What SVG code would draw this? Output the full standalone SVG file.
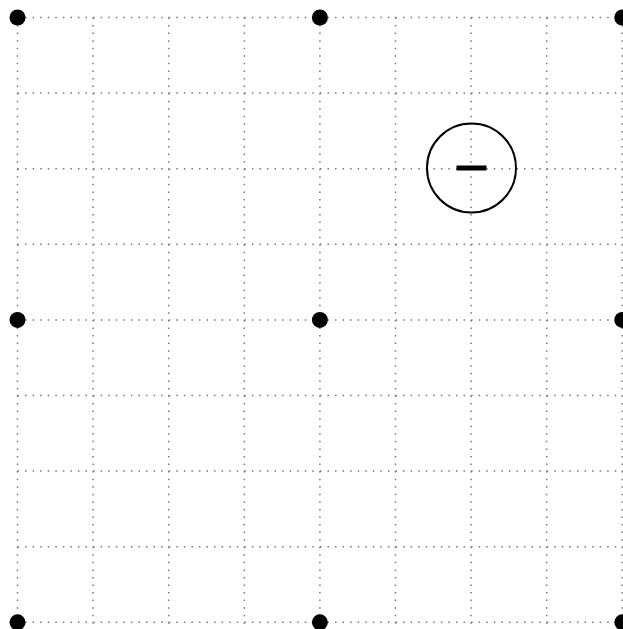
<svg xmlns="http://www.w3.org/2000/svg" width="623" height="629" viewBox="0 0 623 629">
<style>
.g{stroke:#777;stroke-width:1.5;stroke-dasharray:1.5 6.06;fill:none}
.d{fill:#000}
</style>
<rect width="623" height="629" fill="#fff"/>
<g id="grid">
<path class="g" d="M17.5 17.5H623M17.5 93.1H623M17.5 168.7H623M17.5 244.3H623M17.5 319.9H623M17.5 395.5H623M17.5 471.1H623M17.5 546.7H623M17.5 622.3H623"/>
<path class="g" d="M17.5 17.5V629M93.1 17.5V629M168.7 17.5V629M244.3 17.5V629M319.9 17.5V629M395.5 17.5V629M471.1 17.5V629M546.7 17.5V629M622.3 17.5V629"/>
</g>
<g id="dots">
<circle class="d" cx="17.5" cy="17.5" r="8"/>
<circle class="d" cx="319.9" cy="17.5" r="8"/>
<circle class="d" cx="622.3" cy="17.5" r="8"/>
<circle class="d" cx="17.5" cy="319.9" r="8"/>
<circle class="d" cx="319.9" cy="319.9" r="8"/>
<circle class="d" cx="622.3" cy="319.9" r="8"/>
<circle class="d" cx="17.5" cy="622.3" r="8"/>
<circle class="d" cx="319.9" cy="622.3" r="8"/>
<circle class="d" cx="622.3" cy="622.3" r="8"/>
</g>
<g id="minus">
<circle cx="471.5" cy="168" r="44.5" fill="none" stroke="#000" stroke-width="2"/>
<rect x="456.5" y="165.5" width="30" height="5" fill="#000"/>
</g>
</svg>
